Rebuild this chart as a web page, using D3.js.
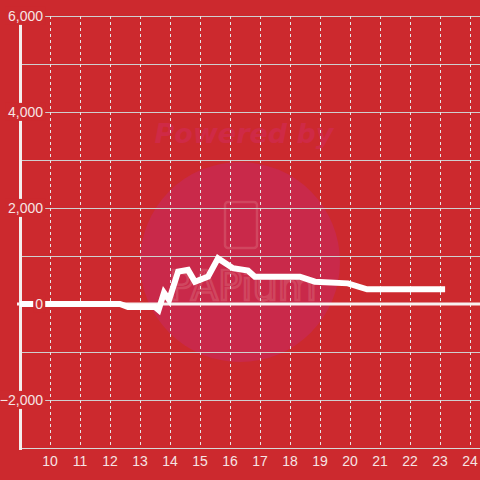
<!DOCTYPE html>
<html>
<head>
<meta charset="utf-8">
<script src="https://cdn.jsdelivr.net/npm/d3@7"></script>
<style>
html,body{margin:0;padding:0;background:#cc292e;}
svg{display:block;}
</style>
</head>
<body>
<svg id="chart" width="480" height="480"></svg>
<script>
// Data (hour of day, value)
const times  = [9, 12.33, 12.6, 13.5, 13.62, 13.8, 13.97, 14.27, 14.6, 14.83, 15.27, 15.6, 16.1, 16.6, 16.83, 18.33, 18.83, 19.93, 20.57, 23.17];
const values = [0, 0, -60, -60, -125, 235, 85, 675, 710, 465, 570, 950, 745, 695, 570, 570, 465, 430, 305, 305];
const xTicks = [10, 11, 12, 13, 14, 15, 16, 17, 18, 19, 20, 21, 22, 23, 24];
const yLabelTicks = [-2000, 0, 2000, 4000, 6000];
const yGridTicks = [-2000, -1000, 1000, 2000, 3000, 4000, 5000, 6000];

const W = 480, H = 480;
const bg = "#cc292e";
const svg = d3.select("#chart");
const x = d3.scaleLinear().domain([9, 24 + 1/3]).range([20, 480]);
const y = d3.scaleLinear().domain([-3000, 6000]).range([448, 16]);
const fmt = d3.format(",");

svg.append("rect").attr("width", W).attr("height", H).attr("fill", bg);

// watermark
const wm = svg.append("g");
wm.append("circle").attr("cx", 240).attr("cy", 262).attr("r", 100).attr("fill", "#c9294a");
const pw = wm.append("text").attr("x", 244).attr("y", 143).attr("text-anchor", "middle")
  .attr("font-family", "DejaVu Sans, sans-serif").attr("font-size", 27)
  .attr("font-weight", "bold").attr("font-style", "italic")
  .attr("fill", "#cf2a46").text("Powered by");
wm.append("rect").attr("x", 225).attr("y", 202).attr("width", 32).attr("height", 46).attr("rx", 3)
  .attr("fill", "none").attr("stroke", "#d65a6e").attr("stroke-width", 2.5).attr("opacity", 0.6);
wm.append("text").attr("x", 243).attr("y", 300).attr("text-anchor", "middle")
  .attr("font-family", "DejaVu Sans, sans-serif").attr("font-size", 40)
  .attr("fill", "none").attr("stroke", "#d65a6e").attr("stroke-width", 2.5).attr("opacity", 0.6)
  .text("PAPium");

// horizontal grid
svg.append("g").selectAll("line").data(yGridTicks).join("line")
  .attr("x1", 21).attr("x2", W).attr("y1", d => y(d) + 0.5).attr("y2", d => y(d) + 0.5)
  .attr("stroke", "#cfcfcf").attr("stroke-width", 1);

// vertical dotted grid
svg.append("g").selectAll("line").data(xTicks).join("line")
  .attr("x1", d => x(d) + 0.5).attr("x2", d => x(d) + 0.5).attr("y1", 16).attr("y2", 448)
  .attr("stroke", "#e6e6e6").attr("stroke-width", 1).attr("stroke-dasharray", "3,3");

// bottom axis
svg.append("line").attr("x1", 21).attr("x2", W).attr("y1", 448.5).attr("y2", 448.5)
  .attr("stroke", "#d8d8d8").attr("stroke-width", 1.2);

// zero line
svg.append("line").attr("x1", 17).attr("x2", W).attr("y1", y(0)).attr("y2", y(0))
  .attr("stroke", "#f8f0f0").attr("stroke-width", 3);

// y axis line
svg.append("line").attr("x1", 20.5).attr("x2", 20.5).attr("y1", 16).attr("y2", 450)
  .attr("stroke", "#f4eeee").attr("stroke-width", 3);

// data line
const line = d3.line().x((d, i) => x(times[i])).y(d => y(d));
svg.append("path").datum(values).attr("d", line)
  .attr("fill", "none").attr("stroke", "#ffffff").attr("stroke-width", 6)
  .attr("stroke-linejoin", "miter");

// y labels with background
const yl = svg.append("g").selectAll("g").data(yLabelTicks).join("g");
yl.each(function(d) {
  const g = d3.select(this);
  const t = g.append("text").attr("x", 43).attr("y", y(d)).attr("dy", "0.35em")
    .attr("text-anchor", "end").attr("font-family", "Liberation Sans, Arial, sans-serif")
    .attr("font-size", 14).attr("fill", "#f6e4e4").text(fmt(d));
  const b = t.node().getBBox();
  g.insert("rect", "text").attr("x", b.x - 2).attr("y", b.y - 1)
    .attr("width", b.width + 4).attr("height", b.height + 2).attr("fill", bg);
});

// x labels
svg.append("g").selectAll("text").data(xTicks).join("text")
  .attr("x", d => x(d)).attr("y", 466).attr("text-anchor", "middle")
  .attr("font-family", "Liberation Sans, Arial, sans-serif").attr("font-size", 14)
  .attr("fill", "#f6e4e4").text(d => d);
</script>
</body>
</html>
